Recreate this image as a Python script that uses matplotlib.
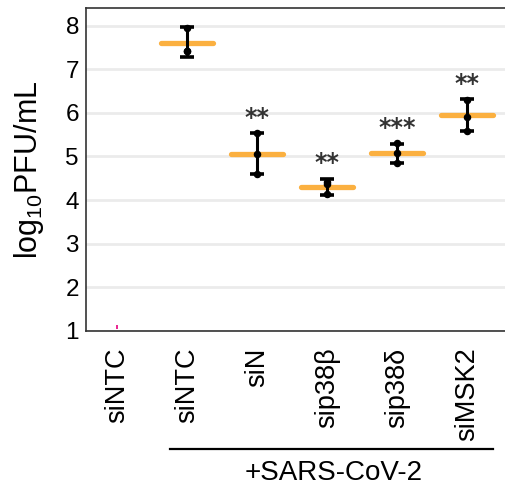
"""
Viral titre after siRNA knockdown (log10 PFU/mL)
"""

# ==========================================================
# IMPORT LIBRARIES
# ==========================================================

import matplotlib
matplotlib.use("Agg")

import matplotlib.pyplot as plt
import matplotlib.transforms as mtransforms

# ==========================================================
# DATA
# ==========================================================

GROUPS = ["siNTC", "siNTC", "siN", "sip38β", "sip38δ", "siMSK2"]

# uninfected control, below detection
MOCK_VALUE = 1.09

MEANS = [7.60, 5.06, 4.31, 5.07, 5.94]
ERR_TOP = [7.98, 5.53, 4.48, 5.29, 6.31]
ERR_BOTTOM = [7.29, 4.60, 4.12, 4.84, 5.59]

POINTS = [
    [7.94, 7.43, 7.43],
    [5.53, 5.05, 4.60],
    [4.42, 4.38, 4.14],
    [5.30, 5.09, 4.84],
    [6.30, 5.90, 5.59],
]

STARS = ["", "**", "**", "***", "**"]

Y_TICKS = [1, 2, 3, 4, 5, 6, 7, 8]

# ==========================================================
# STYLE
# ==========================================================

plt.rcParams["font.family"] = ["Liberation Sans", "DejaVu Sans"]
plt.rcParams["mathtext.fontset"] = "custom"
plt.rcParams["mathtext.rm"] = "Liberation Sans"
plt.rcParams["mathtext.it"] = "Liberation Sans"

ORANGE = "#FBB040"
GRID = "#EBEBEB"
SPINE = "#333333"

# ==========================================================
# PLOT
# ==========================================================

def main():

    fig = plt.figure(figsize=(5.05, 4.88), dpi=100)

    ax = fig.add_axes([0.170, 0.322, 0.830, 0.662])

    x_pos = list(range(len(GROUPS)))
    infected_x = x_pos[1:]

    # mock point
    ax.plot(
        [x_pos[0]], [MOCK_VALUE],
        marker="|", markersize=2.5, color="#E6007E",
        linestyle="none", markeredgewidth=1.2, zorder=3
    )

    # mean bars
    means_line = ax.hlines(
        MEANS,
        [x - 0.37 for x in infected_x],
        [x + 0.37 for x in infected_x],
        color=ORANGE, linewidth=3.8, zorder=3
    )
    means_line.set_capstyle("round")

    # error bars
    lower = [m - b for m, b in zip(MEANS, ERR_BOTTOM)]
    upper = [t - m for m, t in zip(MEANS, ERR_TOP)]

    ax.errorbar(
        infected_x, MEANS,
        yerr=[lower, upper],
        fmt="none", ecolor="black",
        elinewidth=2.2, capsize=4.7, capthick=2.6, zorder=4
    )

    # individual points
    for x, values in zip(infected_x, POINTS):

        ax.plot(
            [x] * len(values), values,
            marker="o", markersize=4.4, color="black",
            linestyle="none", zorder=5
        )

    # significance
    for x, top, label in zip(infected_x, ERR_TOP, STARS):

        if label:
            ax.text(
                x, top + 0.2, label,
                ha="center", va="baseline",
                fontsize=17, color=SPINE,
                family="DejaVu Sans", fontweight="bold"
            )

    # axes
    ax.set_xlim(-0.44, 5.54)
    ax.set_ylim(1, 8.41)

    ax.set_yticks(Y_TICKS)
    ax.set_xticks(x_pos)
    ax.set_xticklabels(GROUPS, rotation=90, va="top")

    ax.tick_params(axis="y", length=0, pad=5, labelsize=17.5)
    ax.tick_params(axis="x", length=0, pad=12, labelsize=19.5)

    ax.yaxis.grid(True, color=GRID, linewidth=2)
    ax.set_axisbelow(True)

    ax.spines["right"].set_visible(False)
    for side in ["left", "top", "bottom"]:
        ax.spines[side].set_color(SPINE)
        ax.spines[side].set_linewidth(1.2)

    ax.set_ylabel("log$_{10}$PFU/mL", fontsize=22, labelpad=14)

    # infection bracket
    trans = mtransforms.blended_transform_factory(ax.transData, ax.transAxes)

    ax.plot(
        [0.76, 5.37], [-0.365, -0.365],
        color="black", linewidth=1.6,
        transform=trans, clip_on=False
    )

    ax.text(
        3.1, -0.44, "+SARS-CoV-2",
        ha="center", va="center", fontsize=20,
        transform=trans
    )

    fig.savefig("out.png", dpi=100)

    plt.close(fig)


# ==========================================================
# DRIVER
# ==========================================================

if __name__ == "__main__":

    main()
